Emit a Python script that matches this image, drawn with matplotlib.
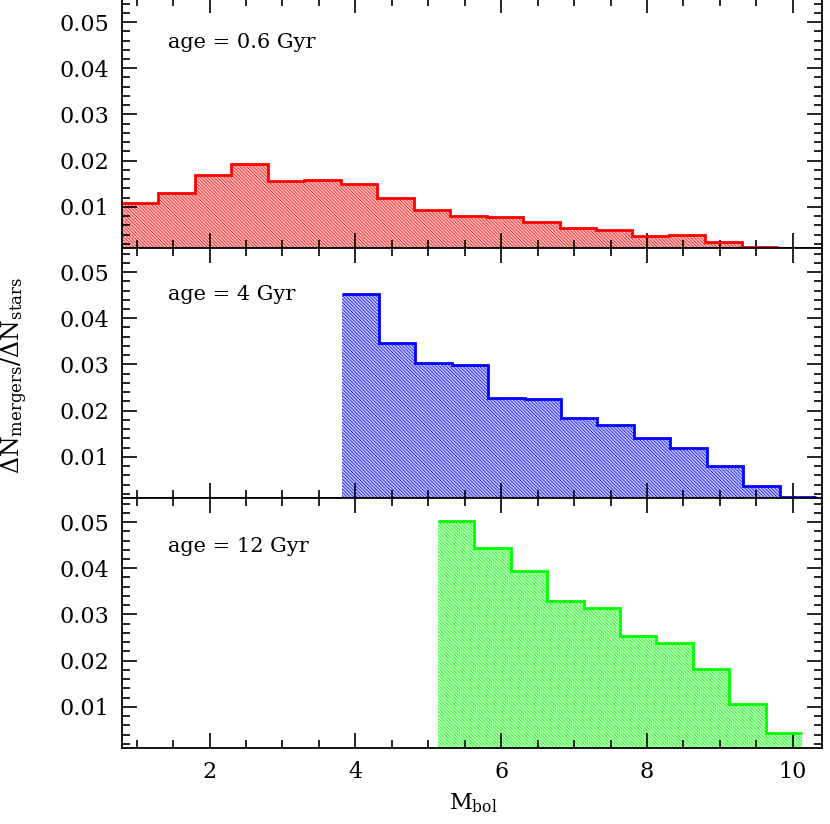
import matplotlib
matplotlib.use('Agg')
import matplotlib.pyplot as plt
from matplotlib.ticker import MultipleLocator
import numpy as np

plt.rcParams['font.family'] = ['DejaVu Serif']
plt.rcParams['mathtext.fontset'] = 'dejavuserif'
plt.rcParams['hatch.linewidth'] = 0.5

# bin edges (M_bol) and merger fractions for each age
edges_06 = [0.8, 1.3, 1.8, 2.3, 2.8, 3.3, 3.8, 4.3, 4.8, 5.3, 5.8, 6.3, 6.8, 7.3, 7.8, 8.3, 8.8, 9.3, 9.8]
frac_06 = [0.0109, 0.0130, 0.0168, 0.0193, 0.0155, 0.0158, 0.0150, 0.0120, 0.0094, 0.0080,
           0.0078, 0.0068, 0.0054, 0.0050, 0.0037, 0.0040, 0.0024, 0.0013]

edges_4 = [3.82, 4.32, 4.82, 5.32, 5.82, 6.32, 6.82, 7.32, 7.82, 8.32, 8.82, 9.32, 9.82, 10.32]
frac_4 = [0.0452, 0.0346, 0.0304, 0.0298, 0.0228, 0.0226, 0.0185, 0.0169, 0.0140, 0.0120,
          0.0081, 0.0037, 0.0014]

edges_12 = [5.13, 5.63, 6.13, 6.63, 7.13, 7.63, 8.13, 8.63, 9.13, 9.63, 10.13]
frac_12 = [0.0502, 0.0443, 0.0395, 0.0330, 0.0313, 0.0253, 0.0239, 0.0183, 0.0107, 0.0044]

ages = ['0.6', '4', '12']
colors = ['#ff0000', '#0000ff', '#00ff00']
light = ['#ffc4c4', '#c4c4ff', '#c4ffc4']
label_y = [0.0455, 0.0452, 0.0446]

fig = plt.figure(figsize=(8.3, 8.24), dpi=100)
left, right = 122 / 830, 822 / 830
bottom = 1 - 748 / 824
ph = 250 / 824

data = [(edges_06, frac_06), (edges_4, frac_4), (edges_12, frac_12)]
axes = []
for i in range(3):
    ax = fig.add_axes([left, bottom + (2 - i) * ph, right - left, ph])
    axes.append(ax)
    edges, frac = data[i]
    ax.stairs(frac, edges, fill=True, facecolor=light[i], edgecolor=colors[i],
              hatch='\\\\\\\\\\\\\\\\\\\\', linewidth=0)
    ax.stairs(frac, edges, baseline=None, color=colors[i], linewidth=2, zorder=3)
    ax.set_xlim(0.8, 10.4)
    ax.set_ylim(0.0011, 0.0552)
    ax.xaxis.set_major_locator(MultipleLocator(2))
    ax.xaxis.set_minor_locator(MultipleLocator(0.5))
    ax.yaxis.set_major_locator(MultipleLocator(0.01))
    ax.yaxis.set_minor_locator(MultipleLocator(0.002))
    ax.tick_params(which='both', direction='in', top=True, right=True, labelsize=16, width=1.2)
    ax.tick_params(which='major', length=11, pad=9)
    ax.tick_params(which='minor', length=5.5)
    for sp in ax.spines.values():
        sp.set_linewidth(1.3)
    ax.set_yticks([0.01, 0.02, 0.03, 0.04, 0.05])
    ax.set_yticklabels(['0.01', '0.02', '0.03', '0.04', '0.05'])
    if i < 2:
        ax.tick_params(labelbottom=False)
    ax.text(1.43, label_y[i], 'age = ' + ages[i] + ' Gyr', fontsize=15, va='center', ha='left')

axes[2].set_xticks([2, 4, 6, 8, 10])
fig.text(473 / 830, 1 - 803 / 824, r'$\mathrm{M}_{\mathrm{bol}}$', fontsize=16, ha='center', va='center')
fig.text(15 / 830, 1 - 375 / 824, r'$\Delta\mathrm{N}_{\mathrm{mergers}}/\Delta\mathrm{N}_{\mathrm{stars}}$',
         fontsize=17, rotation=90, ha='center', va='center')

fig.savefig('out.png', dpi=100)
